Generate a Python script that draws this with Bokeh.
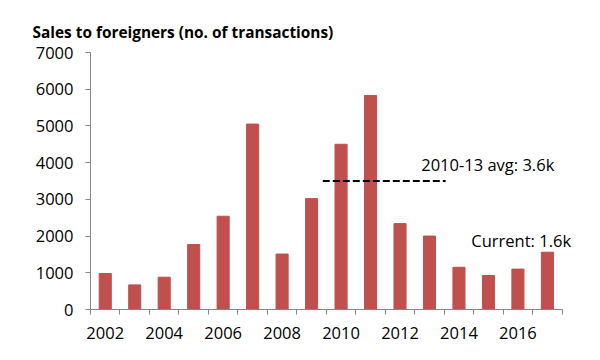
from bokeh.plotting import figure
from bokeh.models import FixedTicker, Label
from bokeh.embed import file_html
from bokeh.resources import INLINE

years = list(range(2002, 2018))
sales = [980, 670, 880, 1770, 2540, 5050, 1510, 3020, 4500, 5830, 2340, 2000, 1150, 925, 1100, 1560]
y_ticks = [0, 1000, 2000, 3000, 4000, 5000, 6000, 7000]
x_label_years = [2002, 2004, 2006, 2008, 2010, 2012, 2014, 2016]
avg_value = 3500
avg_text = "2010-13 avg: 3.6k"
current_text = "Current: 1.6k"
title_text = "Sales to foreigners (no. of transactions)"

FONT = "Open Sans"
BAR = "#C0504D"
AXIS = "#868686"

p = figure(width=592, height=352, output_backend="svg", toolbar_location=None,
           x_range=(2001.5, 2018.53), y_range=(0, 7000),
           min_border_left=90, min_border_right=0, min_border_top=52, min_border_bottom=43)
p.outline_line_color = None
p.xgrid.visible = False
p.ygrid.visible = False

p.title.text = title_text
p.title.align = "left"
p.title.offset = -58
p.title.text_font = FONT
p.title.text_font_style = "bold"
p.title.text_font_size = "15.4px"
p.title.text_color = "#000000"
p.title.standoff = 19

p.vbar(x=years, top=sales, width=0.41, color=BAR)

p.segment(x0=[2009.38], y0=[avg_value], x1=[2013.55], y1=[avg_value],
          line_color="#000000", line_width=2, line_dash="7 3")

p.add_layout(Label(x=2012.72, y=3940, text=avg_text, text_font=FONT, text_font_size="16.5px",
                   text_color="#000000", text_baseline="alphabetic"))
p.add_layout(Label(x=2014.42, y=1870, text=current_text, text_font=FONT, text_font_size="16.5px",
                   text_color="#000000", text_baseline="alphabetic"))

ya = p.yaxis[0]
ya.ticker = FixedTicker(ticks=y_ticks)
ya.major_tick_out = 5
ya.major_tick_in = 0
ya.minor_tick_out = 0
ya.minor_tick_in = 0
ya.axis_line_color = AXIS
ya.major_tick_line_color = AXIS
ya.major_label_text_font = FONT
ya.major_label_text_font_size = "16.5px"
ya.major_label_text_color = "#000000"
ya.major_label_standoff = 12

xa = p.xaxis[0]
xa.bounds = (2001.5, 2017.5)
xa.ticker = FixedTicker(ticks=x_label_years, minor_ticks=[y - 0.5 for y in years] + [years[-1] + 0.5])
xa.major_tick_out = 0
xa.major_tick_in = 0
xa.minor_tick_out = 5
xa.minor_tick_in = 0
xa.axis_line_color = AXIS
xa.minor_tick_line_color = AXIS
xa.major_label_overrides = {y: str(y) for y in x_label_years}
xa.major_label_text_font = FONT
xa.major_label_text_font_size = "16.5px"
xa.major_label_text_color = "#000000"
xa.major_label_standoff = 12

open("out.html", "w").write(file_html(p, INLINE))
